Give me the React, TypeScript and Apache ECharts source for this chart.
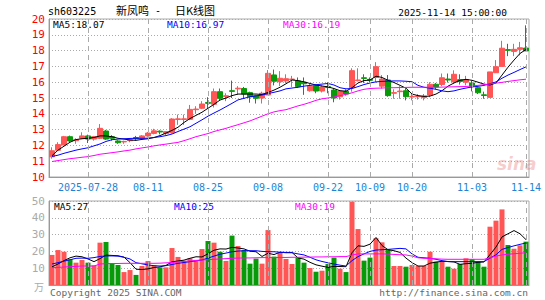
import React, { useEffect, useRef } from 'react';
import * as echarts from 'echarts';

const dates = [
  '2025-07-18','2025-07-21','2025-07-22','2025-07-23','2025-07-24','2025-07-25','2025-07-28','2025-07-29','2025-07-30','2025-07-31',
  '2025-08-01','2025-08-04','2025-08-05','2025-08-06','2025-08-07','2025-08-08','2025-08-11','2025-08-12','2025-08-13','2025-08-14',
  '2025-08-15','2025-08-18','2025-08-19','2025-08-20','2025-08-21','2025-08-22','2025-08-25','2025-08-26','2025-08-27','2025-08-28',
  '2025-08-29','2025-09-01','2025-09-02','2025-09-03','2025-09-04','2025-09-05','2025-09-08','2025-09-09','2025-09-10','2025-09-11',
  '2025-09-12','2025-09-15','2025-09-16','2025-09-17','2025-09-18','2025-09-19','2025-09-22','2025-09-23','2025-09-24','2025-09-25',
  '2025-09-26','2025-09-29','2025-09-30','2025-10-09','2025-10-10','2025-10-13','2025-10-14','2025-10-15','2025-10-16','2025-10-17',
  '2025-10-20','2025-10-21','2025-10-22','2025-10-23','2025-10-24','2025-10-27','2025-10-28','2025-10-29','2025-10-30','2025-10-31',
  '2025-11-03','2025-11-04','2025-11-05','2025-11-06','2025-11-07','2025-11-10','2025-11-11','2025-11-12','2025-11-13','2025-11-14'
];

const opens = [
  11.28,11.69,12.03,12.55,12.3,12.45,12.6,12.4,12.45,12.91,
  12.55,12.28,12.22,12.3,12.5,12.45,12.6,12.76,12.9,12.75,
  12.8,13.64,13.64,13.65,14.26,14.35,14.72,14.6,15.4,15.1,
  15.46,15.58,15.6,15.34,15.15,15.0,15.19,16.46,16.03,16.08,
  16.17,16.08,16.0,15.46,15.78,15.44,15.72,15.5,15.08,15.42,
  15.65,16.1,16.28,16.18,16.3,15.75,16.14,15.3,15.4,15.46,
  15.06,15.08,15.02,15.19,15.87,15.85,16.2,16.02,16.16,16.0,
  15.95,15.65,15.2,15.04,16.6,17.0,18.06,17.95,18.08,18.16
];
const closes = [
  11.66,12.05,12.55,12.28,12.36,12.6,12.4,12.55,13.08,12.4,
  12.45,12.17,12.25,12.36,12.42,12.6,12.78,12.92,12.85,12.87,
  13.67,13.68,13.68,14.28,14.3,14.62,14.66,15.4,14.98,15.14,
  15.42,15.62,15.25,15.08,14.98,15.3,16.56,16.06,16.25,16.22,
  16.2,15.72,15.9,15.75,15.44,15.7,15.66,15.0,15.44,15.25,
  16.73,16.14,16.24,16.12,16.98,16.2,15.15,15.34,15.44,15.08,
  15.1,15.12,15.12,15.87,15.7,16.28,16.14,16.5,16.05,16.16,
  15.74,15.33,15.16,16.65,16.98,18.15,18.02,18.08,18.18,17.98
];
const highs = [
  11.88,12.2,12.6,12.62,12.45,12.83,12.68,12.6,13.35,12.98,
  12.65,12.33,12.3,12.45,12.6,12.65,12.85,13.05,12.95,12.9,
  13.72,13.95,13.95,14.56,14.48,14.8,15.05,15.6,15.6,15.3,
  16.1,15.75,15.7,15.4,15.2,15.4,16.77,16.8,16.7,16.5,
  16.4,16.3,16.3,15.9,15.85,15.8,16.0,15.6,15.5,15.55,
  16.88,16.88,16.5,16.3,17.27,16.45,16.45,15.55,15.75,15.6,
  15.25,15.25,15.25,16.0,15.95,16.55,16.55,16.75,16.5,16.4,
  16.1,15.72,15.4,16.65,17.4,18.62,18.43,18.43,18.55,19.6
];
const lows = [
  11.16,11.65,12.0,12.2,12.1,12.4,12.15,12.3,12.4,12.35,
  12.3,12.1,12.1,12.2,12.3,12.38,12.55,12.7,12.7,12.65,
  12.75,13.3,13.3,13.6,14.0,14.3,14.35,14.4,14.85,14.8,
  15.0,15.2,15.0,14.7,14.65,14.65,15.19,15.8,15.75,15.95,
  15.7,15.65,15.2,15.4,15.3,15.35,15.3,14.73,14.9,15.15,
  15.4,16.05,15.95,16.0,16.0,15.6,15.08,14.95,14.95,14.85,
  14.85,14.9,14.85,15.05,15.55,15.75,15.98,15.9,15.85,15.8,
  15.42,15.25,14.95,15.04,16.58,17.0,17.65,17.65,17.7,17.98
];
const volumes = [
  17.9,20.8,19.8,15.3,13.3,14.9,13.3,11.7,25.2,25.6,
  12.5,11.9,7.7,8.9,6.0,11.3,14.3,11.7,10.5,10.5,
  22.0,16.7,14.5,15.9,14.9,21.4,26.2,25.2,19.8,14.3,
  29.4,23.2,20.8,12.7,15.7,12.7,32.7,16.9,19.3,15.5,
  12.5,16.3,13.3,10.1,7.9,8.5,12.5,16.3,9.7,7.7,
  49.6,33.3,14.5,16.3,27.8,25.4,21.2,11.3,11.3,10.9,
  11.9,11.3,11.3,19.8,13.9,14.3,10.9,9.7,12.5,15.9,
  15.3,13.9,10.9,34.7,38.3,45.0,23.8,21.6,23.6,25.8
];
const ma5 = [
  11.35,11.7,11.95,12.2,12.37,12.42,12.45,12.5,12.6,12.6,
  12.55,12.45,12.4,12.34,12.32,12.38,12.42,12.5,12.62,12.78,
  12.95,13.15,13.45,13.7,13.9,14.1,14.35,14.6,14.87,15.0,
  15.15,15.25,15.25,15.25,15.25,15.22,15.35,15.5,15.68,15.9,
  16.14,16.1,16.02,15.92,15.82,15.76,15.7,15.6,15.46,15.43,
  15.65,15.95,16.1,16.14,16.38,16.3,16.12,15.98,15.8,15.62,
  15.25,15.15,15.1,15.12,15.25,15.46,15.75,15.95,16.12,16.18,
  16.12,16.0,15.88,15.82,15.95,16.45,16.95,17.4,17.82,18.07
];
const ma10 = [
  11.3,11.38,11.5,11.6,11.7,11.78,11.85,11.97,12.09,12.25,
  12.36,12.4,12.42,12.44,12.45,12.45,12.46,12.5,12.55,12.62,
  12.72,12.88,13.03,13.18,13.4,13.62,13.85,14.05,14.24,14.45,
  14.66,14.88,14.98,15.08,15.13,15.19,15.28,15.36,15.45,15.58,
  15.63,15.68,15.75,15.8,15.84,15.88,15.92,15.82,15.65,15.58,
  15.6,15.72,15.85,15.95,16.02,16.05,16.07,16.08,16.08,16.06,
  16.03,15.8,15.68,15.62,15.55,15.45,15.4,15.45,15.55,15.63,
  15.7,15.74,15.8,15.9,16.02,16.25,16.45,16.62,16.8,16.97
];
const ma30 = [
  10.98,11.04,11.1,11.16,11.2,11.25,11.29,11.36,11.44,11.49,
  11.54,11.59,11.65,11.7,11.78,11.84,11.9,11.97,12.03,12.08,
  12.14,12.19,12.3,12.42,12.55,12.65,12.75,12.88,12.98,13.08,
  13.2,13.31,13.43,13.55,13.7,13.85,14.0,14.12,14.2,14.26,
  14.38,14.5,14.6,14.72,14.85,14.95,15.0,15.06,15.15,15.23,
  15.33,15.45,15.55,15.6,15.62,15.63,15.65,15.65,15.66,15.67,
  15.68,15.68,15.68,15.68,15.68,15.69,15.7,15.71,15.72,15.73,
  15.76,15.8,15.84,15.89,15.94,15.99,16.05,16.1,16.15,16.19
];
const vma5 = [
  10.8,12.5,14.5,16.2,17.2,16.8,15.5,13.9,15.7,17.8,
  17.6,17.4,16.6,13.3,9.4,9.2,9.6,10.4,10.8,11.7,
  13.8,14.3,14.8,15.9,16.8,16.7,18.6,20.7,21.5,21.4,
  22.4,22.0,21.5,20.1,19.8,17.0,18.9,18.1,19.5,19.4,
  19.4,16.1,15.4,13.5,12.0,11.2,10.5,11.1,11.0,10.9,
  19.2,23.3,23.0,24.3,28.3,23.5,21.0,20.4,19.4,16.0,
  13.3,11.3,11.3,13.0,13.6,14.1,14.0,13.7,12.3,12.7,
  12.9,13.5,13.7,18.1,22.6,28.6,30.5,32.4,30.5,27.0
];
const vma10 = [
  12.5,13.3,14.2,15.0,15.9,16.0,15.9,16.3,17.0,17.3,
  17.3,17.2,16.5,15.5,13.3,12.6,11.9,11.5,11.3,11.5,
  12.2,12.9,13.4,13.9,14.4,14.9,16.0,17.2,18.3,19.0,
  19.8,20.2,20.4,20.4,20.4,20.0,19.8,19.8,19.5,19.2,
  19.2,18.5,17.9,16.5,15.0,14.0,13.2,12.5,11.8,11.3,
  14.5,16.9,18.5,20.0,20.8,21.0,21.2,21.5,21.8,21.5,
  18.5,16.5,16.2,15.9,15.3,14.5,13.9,13.9,13.9,13.9,
  13.9,13.9,13.9,16.0,18.0,21.2,22.3,23.3,24.2,25.0
];
const vma30 = [
  10.3,10.5,10.7,10.9,11.1,11.3,11.3,11.3,12.5,12.7,
  12.8,12.8,12.9,12.9,12.9,12.9,12.9,12.9,13.0,13.2,
  13.4,13.7,14.0,14.3,14.6,14.9,15.1,15.3,15.5,15.7,
  15.9,16.0,16.1,16.1,16.2,16.3,16.3,16.3,16.4,16.4,
  16.5,16.5,16.6,16.6,16.7,16.7,16.8,16.8,16.9,16.9,
  17.8,18.5,18.5,18.5,18.5,18.5,18.4,18.2,18.0,17.9,
  17.2,16.2,15.9,15.8,15.6,15.4,15.3,15.3,15.3,15.3,
  15.3,15.3,15.3,16.2,17.2,17.9,18.3,18.6,18.9,19.2
];

const labelDates = ['2025-07-28','2025-08-11','2025-08-25','2025-09-08','2025-09-22','2025-10-09','2025-10-20','2025-11-03','2025-11-14'];

const RED = '#ff5555';
const GREEN = '#089a08';
const MONO = '"DejaVu Sans Mono", "Liberation Mono", monospace';
const CJK = '"Noto Sans CJK SC", sans-serif';

export default function App() {
  const ref = useRef<HTMLDivElement>(null);
  useEffect(() => {
    document.body.style.margin = '0';
    const chart = echarts.init(ref.current!, null, { renderer: 'svg' });
    const kData = dates.map((_, i) => [opens[i], closes[i], lows[i], highs[i]]);
    const volData = volumes.map((v, i) => ({
      value: v,
      itemStyle: { color: closes[i] >= opens[i] ? RED : GREEN },
    }));
    const vLines = {
      symbol: ['none', 'none'],
      silent: true,
      animation: false,
      label: { show: false },
      lineStyle: { color: '#aaa', type: [5, 4], width: 1 },
      data: labelDates.map((d) => ({ xAxis: d })),
    };
    const txt = (text: string, x: number, y: number, fill: string, align = 'left', font = `9.5px ${MONO}`) => ({
      type: 'text',
      x,
      y,
      silent: true,
      style: { text, fill, font, textAlign: align, textVerticalAlign: 'middle' },
    });
    const lineS = (data: number[], color: string, xi: number) => ({
      type: 'line',
      data,
      xAxisIndex: xi,
      yAxisIndex: xi,
      symbol: 'none',
      silent: true,
      lineStyle: { color, width: 1 },
      z: 3,
    });
    const option: any = {
      animation: false,
      backgroundColor: '#fff',
      grid: [
        { left: 49, top: 19, width: 480, height: 158, show: true, borderColor: '#aaa', borderWidth: 1, backgroundColor: 'transparent' },
        { left: 49, top: 201, width: 480, height: 84, show: true, borderColor: '#aaa', borderWidth: 1, backgroundColor: 'transparent' },
      ],
      xAxis: [
        {
          type: 'category',
          data: dates,
          gridIndex: 0,
          boundaryGap: true,
          axisLine: { show: true, lineStyle: { color: '#999' } },
          axisTick: { show: false },
          splitLine: { show: false },
          axisLabel: {
            interval: (i: number, v: string) => labelDates.includes(v),
            formatter: (v: string) => (v === labelDates[0] ? v : v.slice(5)),
            color: '#1c84d2',
            fontFamily: MONO,
            fontSize: 10,
            margin: 5,
          },
        },
        {
          type: 'category',
          data: dates,
          gridIndex: 1,
          boundaryGap: true,
          axisLine: { show: true, lineStyle: { color: '#999' } },
          axisTick: { show: false },
          axisLabel: { show: false },
          splitLine: { show: false },
        },
      ],
      yAxis: [
        {
          type: 'value',
          gridIndex: 0,
          min: 10,
          max: 20,
          interval: 1,
          axisLine: { show: true, lineStyle: { color: '#999' } },
          axisTick: { show: false },
          axisLabel: { color: '#ff0000', fontFamily: MONO, fontSize: 11, margin: 4 },
          splitLine: { show: true, lineStyle: { color: '#aaa', type: [1, 2] } },
        },
        {
          type: 'value',
          gridIndex: 1,
          min: 0,
          max: 50,
          interval: 10,
          axisLine: { show: true, lineStyle: { color: '#999' } },
          axisTick: { show: false },
          axisLabel: {
            color: '#aaa',
            fontFamily: MONO,
            fontSize: 11,
            margin: 4,
            formatter: (v: number) => (v === 0 ? '' : String(v)),
          },
          splitLine: { show: true, lineStyle: { color: '#aaa', type: [1, 2] } },
        },
      ],
      series: [
        {
          type: 'candlestick',
          data: kData,
          xAxisIndex: 0,
          yAxisIndex: 0,
          barWidth: 5,
          silent: true,
          itemStyle: { color: RED, color0: GREEN, borderColor: RED, borderColor0: GREEN, borderWidth: 1 },
          markLine: vLines,
          z: 2,
        },
        lineS(ma5, '#000000', 0),
        lineS(ma10, '#0000ff', 0),
        lineS(ma30, '#ff00ff', 0),
        {
          type: 'bar',
          data: volData,
          xAxisIndex: 1,
          yAxisIndex: 1,
          barWidth: 5,
          silent: true,
          markLine: vLines,
          z: 2,
        },
        lineS(vma5, '#000000', 1),
        lineS(vma10, '#0000ff', 1),
        lineS(vma30, '#ff00ff', 1),
      ],
      graphic: [
        txt('sh603225', 48, 11, '#000', 'left', `10px ${MONO}`),
        txt('新凤鸣', 116, 10, '#000', 'left', `11px ${CJK}`),
        txt('-', 155, 10, '#000', 'left', `10px ${MONO}`),
        txt('日K线图', 175, 10, '#000', 'left', `11px ${CJK}`),
        txt('2025-11-14 15:00:00', 507, 12, '#000', 'right'),
        txt('MA5:18.07', 53, 24, '#000'),
        txt('MA10:16.97', 167, 24, '#0000ff'),
        txt('MA30:16.19', 283, 24, '#ff00ff'),
        txt('MA5:27', 54, 206, '#000'),
        txt('MA10:25', 174, 206, '#0000ff'),
        txt('MA30:19', 295, 206, '#ff00ff'),
        txt('万', 44, 286, '#aaa', 'right', `10px ${CJK}`),
        txt('Copyright 2025 SINA.COM', 50, 292, '#666'),
        txt('http://finance.sina.com.cn', 528, 292, '#666', 'right'),
        txt('sina', 497, 164, 'rgba(230,110,110,0.35)', 'left', 'italic bold 17px "DejaVu Sans", sans-serif'),
      ],
    };
    chart.setOption(option);
    return () => chart.dispose();
  }, []);
  return <div ref={ref} style={{ position: 'fixed', left: 0, top: 0, width: 545, height: 300 }} />;
}
